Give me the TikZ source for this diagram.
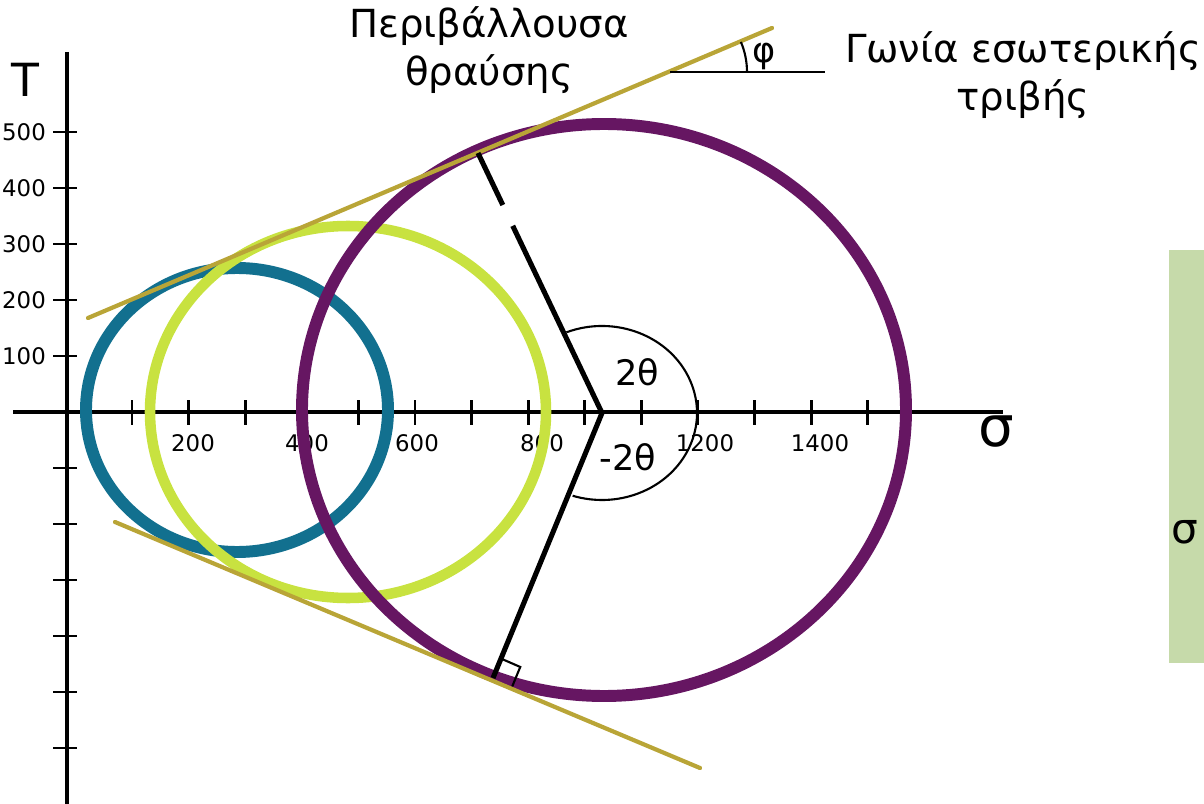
\documentclass[tikz,border=0pt]{standalone}
\usepackage{fontspec}
\setmainfont{DejaVu Sans}
\usepackage{xcolor}
\definecolor{mohrblue}{RGB}{18,112,143}
\definecolor{mohrlime}{RGB}{200,226,64}
\definecolor{mohrpurple}{RGB}{102,22,98}
\definecolor{mohrolive}{RGB}{185,165,55}
\definecolor{mohrgreen}{RGB}{198,218,170}
\usepackage{tikz}
\usetikzlibrary{calc}

\tikzset{
  axisline/.style={line width=1.8pt, black},
  tickmark/.style={line width=1.6pt, black},
  mohrcircle/.style={line width=6.8pt},
  envline/.style={line width=2.4pt, mohrolive, line cap=round},
  radline/.style={line width=2.9pt, black},
}

\begin{document}
\begin{tikzpicture}[x=0.02cm, y=-0.02cm]
  \useasboundingbox (0,0) rectangle (1204,804);

  % green strip at the right edge
  \fill[mohrgreen] (1169,250) rectangle (1204,663);
  \node[font=\fontsize{24}{28}\selectfont] (sigbox) at (1185,532) {σ};

  % axes and ticks
  \draw[axisline] (13,412) -- (1003,412);
  \draw[axisline] (67,52) -- (67,804);
  \foreach \k in {0,...,13}
    \draw[tickmark] ({132+56.6*\k},400) -- ({132+56.6*\k},425);
  \foreach \k in {-5,-4,-3,-2,-1,1,2,3,4,5,6}
    \draw[tickmark] (53,{412+56*\k}) -- (77,{412+56*\k});
  \foreach \v [count=\i] in {100,200,...,500}
    \node[font=\fontsize{13}{15}\selectfont, anchor=east] (yl\v) at (52,{412-56*\i}) {\v};
  \foreach \x/\t in {193/200,307/400,417/600,542/800,705/1200,820/1400}
    \node[font=\fontsize{13}{15}\selectfont] (xl\t) at (\x,443) {\t};
  \node[font=\fontsize{26}{30}\selectfont] (taulabel) at (25,80) {T};
  \node[font=\fontsize{32}{36}\selectfont] (sigmalabel) at (996,432) {σ};

  % Mohr circles
  \coordinate (cblue) at (237,410);
  \coordinate (clime) at (348,412);
  \coordinate (cpurple) at (604,410);
  \draw[mohrcircle, mohrblue] (cblue) ellipse[x radius=151, y radius=142];
  \draw[mohrcircle, mohrlime, line width=6pt] (clime) ellipse[x radius=198, y radius=186];
  \draw[mohrcircle, mohrpurple] (cpurple) ellipse[x radius=302, y radius=286];

  % failure envelope
  \coordinate (upA) at (88,318);
  \coordinate (upB) at (772,28);
  \coordinate (loA) at (115,522);
  \coordinate (loB) at (700,768);
  \draw[envline] (upA) -- (upB);
  \draw[envline] (loA) -- (loB);

  % radii to the tangent points
  \coordinate (V) at (602,413);
  \coordinate (T1) at (478,153);
  \coordinate (T2) at (493,678);
  \draw[radline] (V) -- ($(V)!0.72!(T1)$);
  \draw[radline] ($(V)!0.80!(T1)$) -- (T1);
  \draw[radline] (V) -- (T2);
  \coordinate (ra1) at ($(T2)!0.42cm!(V)$);
  \coordinate (ra2) at ($(T2)!0.42cm!(loB)$);
  \draw[line width=1.2pt] (ra1) -- ($(ra1)+(ra2)-(T2)$) -- (ra2);

  % 2theta arc
  \draw[line width=1.2pt] ([shift={(-112:95 and 87)}]V) arc[start angle=-112, end angle=108, x radius=95, y radius=87];
  \node[font=\fontsize{20}{24}\selectfont] (twotheta) at (637,372) {2θ};
  \node[font=\fontsize{20}{24}\selectfont] (mtwotheta) at (628,457) {-2θ};

  % friction angle
  \coordinate (phiO) at (670,72);
  \draw[line width=1.4pt] (phiO) -- (825,72);
  \draw[line width=1.2pt] ([shift={(0:77)}]phiO) arc[start angle=0, end angle=-23, radius=77];
  \node[font=\fontsize{20}{24}\selectfont] (philabel) at (764,56) {φ};

  % titles
  \node[font=\fontsize{22}{27}\selectfont, align=center] (envlabel) at (489,50) {Περιβάλλουσα\\θραύσης};
  \node[font=\fontsize{22}{27}\selectfont, align=center] (anglelabel) at (1023,75) {Γωνία εσωτερικής\\τριβής};
\end{tikzpicture}
\end{document}
